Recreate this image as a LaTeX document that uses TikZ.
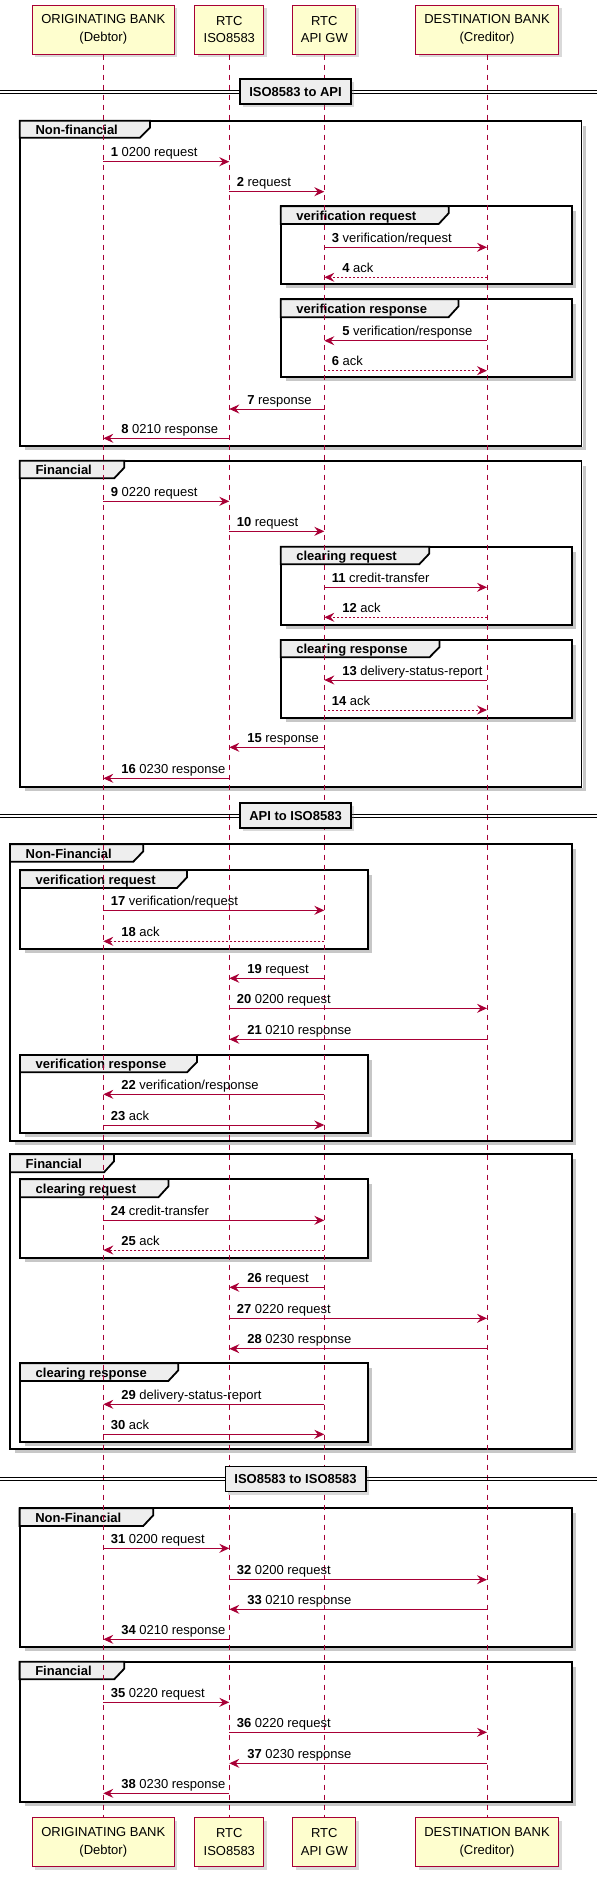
\documentclass[tikz,border=0pt]{standalone}
\usepackage{fontspec}
\setmainfont{Liberation Sans}
\usetikzlibrary{arrows.meta,shadows}
\definecolor{umlred}{HTML}{A80036}
\definecolor{umlbox}{HTML}{FEFECE}
\definecolor{umlgrey}{HTML}{EEEEEE}

\begin{document}
\begin{tikzpicture}[x=1pt,y=-1pt,
        part/.style={draw=umlred,fill=umlbox,line width=1pt,minimum height=49,inner sep=0pt,align=center,
            font=\fontsize{13}{17.7}\selectfont,drop shadow={shadow xshift=3pt,shadow yshift=-3pt,opacity=.3}},
        life/.style={umlred,line width=.8pt,dash pattern=on 5pt off 5pt},
        msg/.style={umlred,line width=1pt,-{Stealth[length=10pt,width=9pt,inset=3.5pt]}},
        ret/.style={msg,dash pattern=on 2pt off 2pt},
        lbl/.style={anchor=base west,yshift=5pt,inner sep=0pt,text=black,font=\fontsize{13}{15}\selectfont},
        frame/.style={line width=1.8pt,line join=miter},
        tab/.style={frame,fill=umlgrey},
        tabtxt/.style={anchor=base west,inner sep=0pt,font=\fontsize{13}{15}\selectfont\bfseries},
        fshadow/.style={black!22,line width=3pt},
        divline/.style={line width=1pt},
        divbox/.style={draw,fill=umlgrey,line width=1.5pt,minimum height=25,inner sep=0pt,
            font=\fontsize{13}{15}\selectfont\bfseries,drop shadow={shadow xshift=3pt,shadow yshift=-3pt,opacity=.3}}]
        \useasboundingbox (0,0) rectangle (597,1879);

        \foreach \fl/\fr/\ft/\fh/\fb/\fx/\fn [count=\i] in {
            19.8/581.5/120.7/137.7/446/150/Non-financial,
            280.7/571.6/206.2/224/284.3/448.7/verification request,
            280.7/571.6/299.3/317.3/377.3/458.5/verification response,
            19.8/581.5/460.7/478.3/786.7/124.2/Financial,
            280.7/571.6/546.7/564.3/625/429.2/clearing request,
            280.7/571.6/640/657.3/718.3/439.5/clearing response,
            10/571.6/844.3/861.7/1140.7/143.3/Non-Financial,
            20/368.3/870.3/888/949/187/verification request,
            20/368.3/1055/1072.3/1132.7/197/verification response,
            10/571.6/1154.3/1172.3/1449/114/Financial,
            20/368.3/1179.3/1197.3/1258.3/168.4/clearing request,
            20/368.3/1363.3/1381/1442.3/178.3/clearing response,
            19.6/571.6/1508.3/1526/1647/153.2/Non-Financial,
            19.6/571.6/1661.7/1679.3/1801.7/124.2/Financial} {
            \draw[fshadow] (\fl+5,\fb+2.5) -| (\fr+2.5,\ft+5);
            \draw[frame] (\fl,\ft) rectangle (\fr,\fb);
            \draw[tab] (\fl,\ft) -- (\fx,\ft) -- (\fx,\ft+7) -- (\fx-10,\fh) -- (\fl,\fh) -- cycle;
            \node[tabtxt] (g\i) at (\fl+15.5,\fh-3.5) {\fn};
        }

        \foreach \nm/\x/\w/\txt in {org/103.3/142/{ORIGINATING BANK\\(Debtor)},
            iso/229.3/69/{RTC\\ISO8583},gw/324.3/63/{RTC\\API GW},
            dst/487/143/{DESTINATION BANK\\(Creditor)}} {
            \node[part,minimum width=\w] (\nm) at (\x,29.5) {\txt};
            \node[part,minimum width=\w] (b\nm) at (\x,1842) {\txt};
            \draw[life] (\nm.south) -- (b\nm.north);
        }

        \foreach \y/\w/\txt [count=\i] in {91.7/111/ISO8583 to API,
            815.7/111/API to ISO8583,1479/140.5/ISO8583 to ISO8583} {
            \draw[divline] (0,\y-1.7) -- (597,\y-1.7) (0,\y+1.7) -- (597,\y+1.7);
            \node[divbox,minimum width=\w] (d\i) at (295.5,\y) {\txt};
        }

        \foreach \ps/\pe/\y/\n/\txt in {org/iso/161.7/1/0200 request,
            iso/gw/191.7/2/request,gw/dst/247.3/3/{verification/request},
            org/iso/501.3/9/0220 request,iso/gw/531.3/10/request,
            gw/dst/587.3/11/credit-transfer,org/gw/910.3/17/{verification/request},
            iso/dst/1008.3/20/0200 request,org/gw/1125/23/ack,
            org/gw/1220.3/24/credit-transfer,iso/dst/1318.3/27/0220 request,
            org/gw/1434.3/30/ack,org/iso/1548.3/31/0200 request,
            iso/dst/1579.7/32/0200 request,org/iso/1702.3/35/0220 request,
            iso/dst/1732.3/36/0220 request}
        \draw[msg] (\ps |- 0,\y) -- (\pe |- 0,\y) node[lbl,at start,xshift=7pt] (m\n) {\textbf{\n} \txt};

        \foreach \ps/\pe/\y/\n/\txt in {dst/gw/340.7/5/{verification/response},
            gw/iso/409/7/response,iso/org/438.3/8/0210 response,
            dst/gw/680/13/delivery-status-report,gw/iso/747.3/15/response,
            iso/org/778.3/16/0230 response,gw/iso/978.3/19/request,
            dst/iso/1039.3/21/0210 response,gw/org/1094.3/22/{verification/response},
            gw/iso/1287.3/26/request,dst/iso/1348.7/28/0230 response,
            gw/org/1404.3/29/delivery-status-report,dst/iso/1609.3/33/0210 response,
            iso/org/1639.3/34/0210 response,dst/iso/1763.3/37/0230 response,
            iso/org/1793.3/38/0230 response}
        \draw[msg] (\ps |- 0,\y) -- (\pe |- 0,\y) node[lbl,at end,xshift=17.5pt] (m\n) {\textbf{\n} \txt};

        \foreach \ps/\pe/\y/\n in {gw/dst/370.7/6,gw/dst/710/14}
        \draw[ret] (\ps |- 0,\y) -- (\pe |- 0,\y) node[lbl,at start,xshift=7pt] (m\n) {\textbf{\n} ack};

        \foreach \ps/\pe/\y/\n in {dst/gw/277.3/4,dst/gw/617.3/12,gw/org/941.3/18,gw/org/1250/25}
        \draw[ret] (\ps |- 0,\y) -- (\pe |- 0,\y) node[lbl,at end,xshift=17.5pt] (m\n) {\textbf{\n} ack};
\end{tikzpicture}
\end{document}
